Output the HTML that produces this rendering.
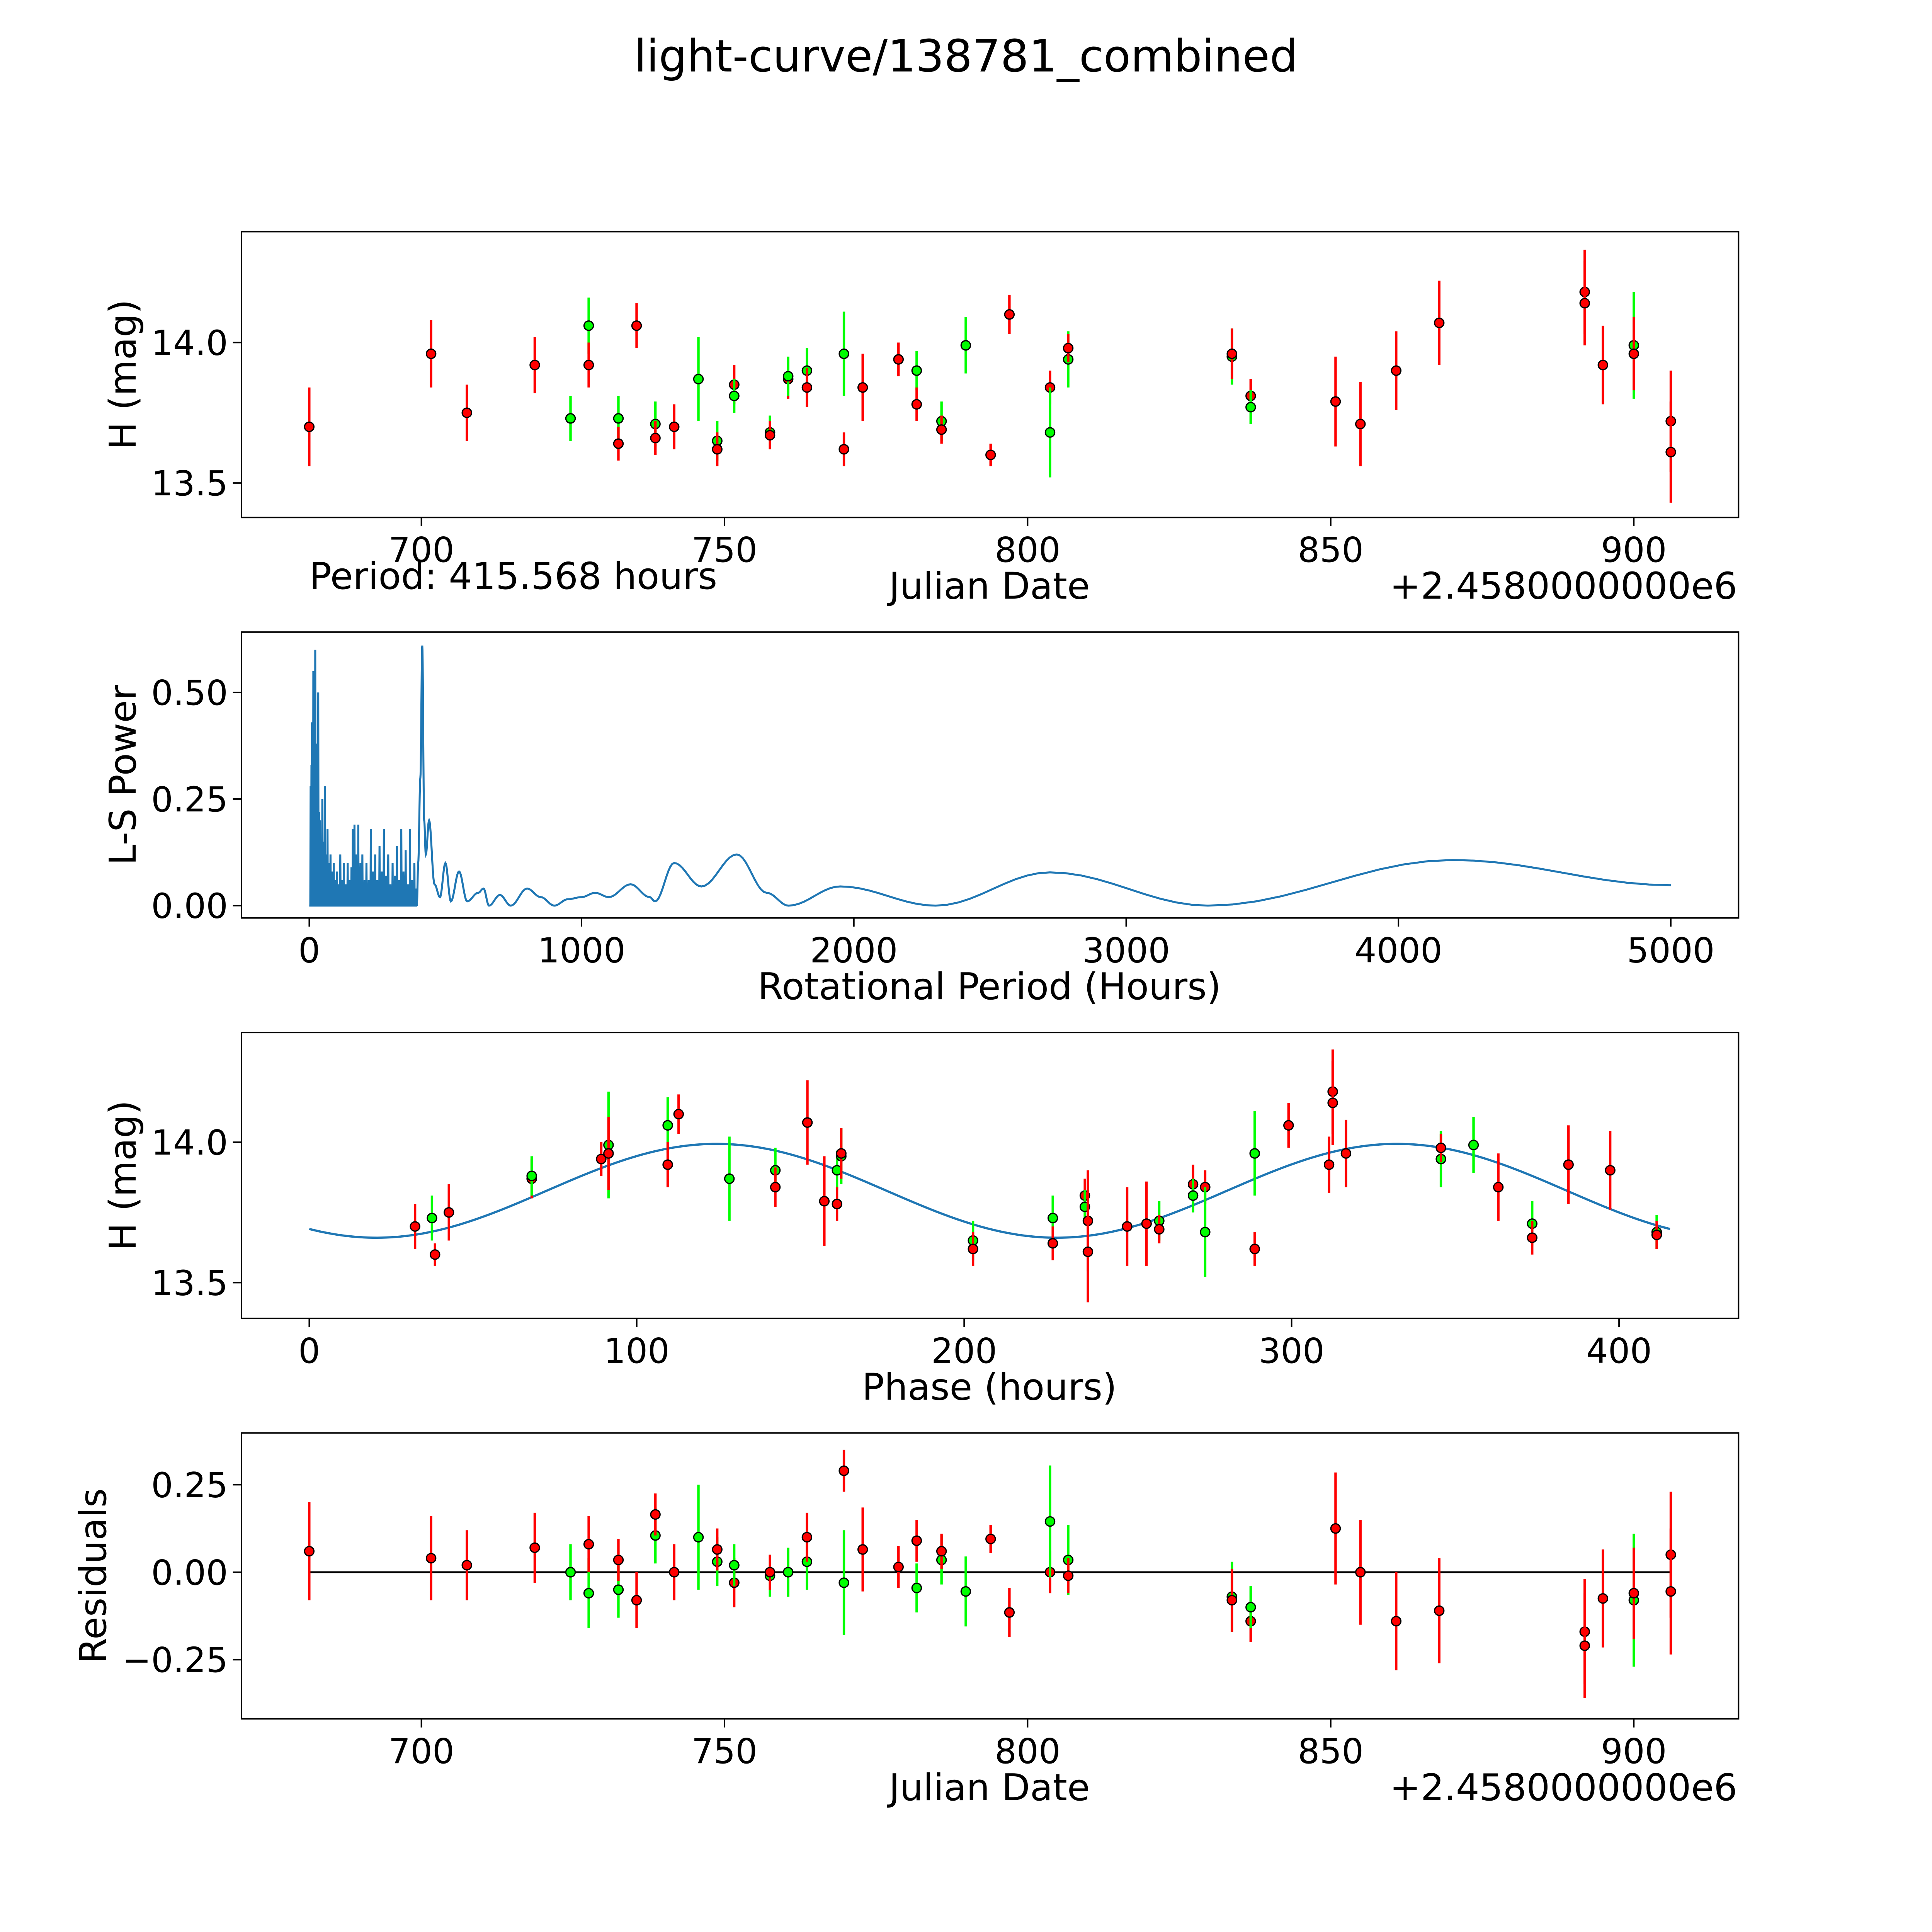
<!DOCTYPE html>
<html><head><meta charset="utf-8"><style>
html,body{margin:0;padding:0;background:#fff;overflow:hidden}
svg{display:block;width:100vw;height:100vh}
text{font-family:"DejaVu Sans","Liberation Sans",sans-serif;fill:#000}
</style></head><body>
<svg id="chart" viewBox="0 0 1568 1568" preserveAspectRatio="none" xmlns="http://www.w3.org/2000/svg">
<rect width="1568" height="1568" fill="#fff"/>
<text x="784" y="58" font-size="36" text-anchor="middle">light-curve/138781_combined</text>
<g id="g"></g>
</svg>
<script>
// observations: julian date offset, magnitude, error, band (r=red, g=green), residual
const obsDates=[681.5,701.6,707.5,718.7,724.6,727.6,727.6,732.5,732.5,735.5,738.6,738.6,741.7,745.7,748.8,748.8,751.6,751.6,757.5,757.5,760.5,760.5,763.6,763.6,769.7,769.7,772.8,778.7,781.7,781.7,785.8,785.8,789.8,793.9,797.0,803.7,803.7,806.7,806.7,833.7,833.7,836.8,836.8,850.8,854.9,860.8,867.9,891.9,891.9,894.9,900.0,900.0,906.1,906.1];
const obsMags=[13.70,13.96,13.75,13.92,13.73,14.06,13.92,13.73,13.64,14.06,13.71,13.66,13.70,13.87,13.65,13.62,13.85,13.81,13.68,13.67,13.87,13.88,13.90,13.84,13.96,13.62,13.84,13.94,13.90,13.78,13.72,13.69,13.99,13.60,14.10,13.84,13.68,13.94,13.98,13.95,13.96,13.81,13.77,13.79,13.71,13.90,14.07,14.18,14.14,13.92,13.99,13.96,13.72,13.61];
const obsErrs=[0.14,0.12,0.10,0.10,0.08,0.10,0.08,0.08,0.06,0.08,0.08,0.06,0.08,0.15,0.07,0.06,0.07,0.06,0.06,0.05,0.07,0.07,0.08,0.07,0.15,0.06,0.12,0.06,0.07,0.06,0.07,0.05,0.10,0.04,0.07,0.06,0.16,0.10,0.05,0.10,0.09,0.06,0.06,0.16,0.15,0.14,0.15,0.15,0.15,0.14,0.19,0.13,0.18,0.18];
const obsBands=['r','r','r','r','g','g','r','g','r','r','g','r','r','g','g','r','r','g','g','r','r','g','g','r','g','r','r','r','g','r','g','r','g','r','r','r','g','g','r','g','r','r','g','r','r','r','r','r','r','r','g','r','r','r'];
const obsResiduals=[0.06,0.04,0.02,0.07,0.0,-0.06,0.08,-0.05,0.035,-0.08,0.105,0.165,0.0,0.10,0.03,0.065,-0.03,0.02,-0.01,0.0,0.0,0.0,0.03,0.10,-0.03,0.29,0.065,0.015,-0.045,0.09,0.035,0.06,-0.055,0.095,-0.115,0.0,0.145,0.035,-0.01,-0.07,-0.08,-0.14,-0.10,0.125,0.0,-0.14,-0.11,-0.17,-0.21,-0.075,-0.08,-0.06,0.05,-0.055];
const periodHours=415.568, epoch=792.3;
const modelMean=13.827, modelAmp=0.167, modelMinPhase=20.5;
// periodogram
const lsDensePeaks=[[5,0.28],[8,0.33],[10,0.43],[13,0.25],[15,0.55],[18,0.3],[20,0.2],[22,0.6],[25,0.24],[28,0.38],[30,0.15],[33,0.5],[36,0.22],[40,0.2],[44,0.12],[48,0.25],[52,0.15],[57,0.28],[62,0.12],[67,0.18],[72,0.1],[78,0.12],[84,0.08],[90,0.1],[96,0.06],[102,0.08],[108,0.05],[114,0.12],[120,0.06],[127,0.1],[134,0.05],[141,0.1],[148,0.06],[155,0.09],[160,0.18],[166,0.19],[172,0.12],[180,0.19],[188,0.1],[195,0.12],[203,0.06],[210,0.1],[218,0.06],[226,0.18],[234,0.08],[242,0.12],[250,0.06],[258,0.14],[266,0.08],[274,0.18],[282,0.07],[290,0.12],[298,0.05],[306,0.1],[314,0.07],[322,0.14],[330,0.06],[338,0.18],[346,0.08],[354,0.13],[362,0.05],[370,0.18],[378,0.06],[386,0.1],[394,0.04]];
const lsSmooth=[[400,0.1],[408,0.3],[415,0.61],[422,0.2],[428,0.12],[440,0.2],[460,0.05],[480,0.02],[500,0.1],[520,0.01],[550,0.08],[580,0.01],[620,0.03],[640,0.04],[660,0.0],[700,0.025],[740,0.0],[800,0.04],[850,0.02],[900,0.0],[950,0.015],[1000,0.02],[1050,0.03],[1100,0.02],[1180,0.05],[1250,0.02],[1270,0.01],[1340,0.1],[1440,0.045],[1570,0.12],[1680,0.03],[1760,0.0],[1950,0.045],[2300,0.0],[2720,0.078],[3300,0.0],[4200,0.107],[5000,0.048]];
const dateTicks=[700,750,800,850,900];
const magTicks=[13.5,14.0];
const lsXTicks=[0,1000,2000,3000,4000,5000];
const lsYTicks=[0,0.25,0.5];
const phaseTicks=[0,100,200,300,400];
const resTicks=[-0.25,0,0.25];

const NS='http://www.w3.org/2000/svg', G=document.getElementById('g');
function el(tag,attrs,parent){const e=document.createElementNS(NS,tag);for(const k in attrs)e.setAttribute(k,attrs[k]);(parent||G).appendChild(e);return e;}
const L=196,R=1411;
const xDate=d=>342+(d-700)*4.92;
const xLS=p=>251+p*0.221;
const xPh=p=>251+p*2.6575;
const yMag1=m=>278-(m-14)*228;
const yLS=v=>735-v*346;
const yMag3=m=>927-(m-14)*228;
const yRes=v=>1276-v*284;
function model(ph){return modelMean-modelAmp*Math.cos(2*Math.PI*(ph-modelMinPhase)/(periodHours/2));}
function phaseOf(d){let p=((d-epoch)*24)%periodHours;if(p<0)p+=periodHours;return p;}

function axes(name,top,xt,xf,xfmt,yt,yf,yfmt){
  const g=el('g',{});
  
  
  const b=el('rect',{x:L,y:top,width:R-L,height:232,fill:'none',stroke:'#000','stroke-width':1.2},g);
  
  
  xt.forEach(v=>{const x=xf(v);el('line',{x1:x,x2:x,y1:top+232,y2:top+239,stroke:'#000','stroke-width':1.2},g);
    const t=el('text',{x:x,y:top+268,'font-size':28,'text-anchor':'middle'},g);t.textContent=xfmt(v);
    
    });
  yt.forEach(v=>{const y=yf(v);el('line',{x1:L-7,x2:L,y1:y,y2:y,stroke:'#000','stroke-width':1.2},g);
    const t=el('text',{x:L-11,y:y+10,'font-size':28,'text-anchor':'end'},g);t.textContent=yfmt(v);
    
    });
  return g;
}
function txt(s,x,y,size,anchor,name,rot){const t=el('text',{x:x,y:y,'font-size':size,'text-anchor':anchor});
  if(rot)t.setAttribute('transform','rotate(-90 '+x+' '+y+')');t.textContent=s;
  
  }
function point(x,y,ey,band,parent){
  const c=band==='g'?'#00ff00':'#ff0000';
  const l=el('line',{x1:x,x2:x,y1:y-ey,y2:y+ey,stroke:c,'stroke-width':2},parent);
  
  
  const p=el('circle',{cx:x,cy:y,r:3.8,fill:c,stroke:'#000','stroke-width':1},parent);
  
  
}
const f0=v=>String(v), f1=v=>v.toFixed(1), f2=v=>v<0?'\u2212'+Math.abs(v).toFixed(2):v.toFixed(2);

// Panel 1
const g1=axes('lightcurve-axes',188,dateTicks,xDate,f0,magTicks,yMag1,f1);
obsDates.forEach((d,i)=>point(xDate(d),yMag1(obsMags[i]),obsErrs[i]*228,obsBands[i],g1));
txt('H (mag)',110,304,30,'middle','lightcurve-y-title',true);
txt('Julian Date',803,486,30,'middle','lightcurve-x-title');
txt('+2.4580000000e6',1410,486,30,'end','lightcurve-x-offset');
txt('Period: 415.568 hours',251,478,30,'start','period-label');

// Panel 2
const g2=axes('periodogram-axes',513,lsXTicks,xLS,f0,lsYTicks,yLS,f2);
let pts=[[0,0]];
lsDensePeaks.forEach(([p,v])=>{pts.push([p-1.2,0]);pts.push([p,v]);pts.push([p+1.2,0]);});
lsSmooth.forEach(q=>pts.push(q));
let dstr='';
for(let i=0;i<pts.length;i++){const [p,v]=pts[i];
  if(i>0&&pts[i-1][0]>=380&&p>380){const [p0,v0]=pts[i-1];for(let k=1;k<=10;k++){const t=k/10,pp=p0+(p-p0)*t,s=(1-Math.cos(Math.PI*t))/2,vv=v0+(v-v0)*s;dstr+='L'+xLS(pp).toFixed(2)+' '+yLS(vv).toFixed(2);}}
  else dstr+=(i?'L':'M')+xLS(p).toFixed(2)+' '+yLS(v).toFixed(2);}
const lsPath=el('path',{d:dstr,fill:'none',stroke:'#1f77b4','stroke-width':1.6},g2);


txt('L-S Power',110,629,30,'middle','periodogram-y-title',true);
txt('Rotational Period (Hours)',803,811,30,'middle','periodogram-x-title');

// Panel 3
const g3=axes('phase-axes',838,phaseTicks,xPh,f0,magTicks,yMag3,f1);
let md='';for(let k=0;k<=300;k++){const ph=periodHours*k/300;md+=(k?'L':'M')+xPh(ph).toFixed(2)+' '+yMag3(model(ph)).toFixed(2);}
const mp=el('path',{d:md,fill:'none',stroke:'#1f77b4','stroke-width':1.8},g3);


obsDates.forEach((d,i)=>point(xPh(phaseOf(d)),yMag3(obsMags[i]),obsErrs[i]*228,obsBands[i],g3));
txt('H (mag)',110,954,30,'middle','phase-y-title',true);
txt('Phase (hours)',803,1136,30,'middle','phase-x-title');

// Panel 4
const g4=axes('residuals-axes',1163,dateTicks,xDate,f0,resTicks,yRes,f2);
const zl=el('line',{x1:xDate(681.5),x2:xDate(906.1),y1:yRes(0),y2:yRes(0),stroke:'#000','stroke-width':1.5},g4);


obsDates.forEach((d,i)=>point(xDate(d),yRes(obsResiduals[i]),obsErrs[i]*284,obsBands[i],g4));
txt('Residuals',86,1279,30,'middle','residuals-y-title',true);
txt('Julian Date',803,1461,30,'middle','residuals-x-title');
txt('+2.4580000000e6',1410,1461,30,'end','residuals-x-offset');
</script>
</body></html>
